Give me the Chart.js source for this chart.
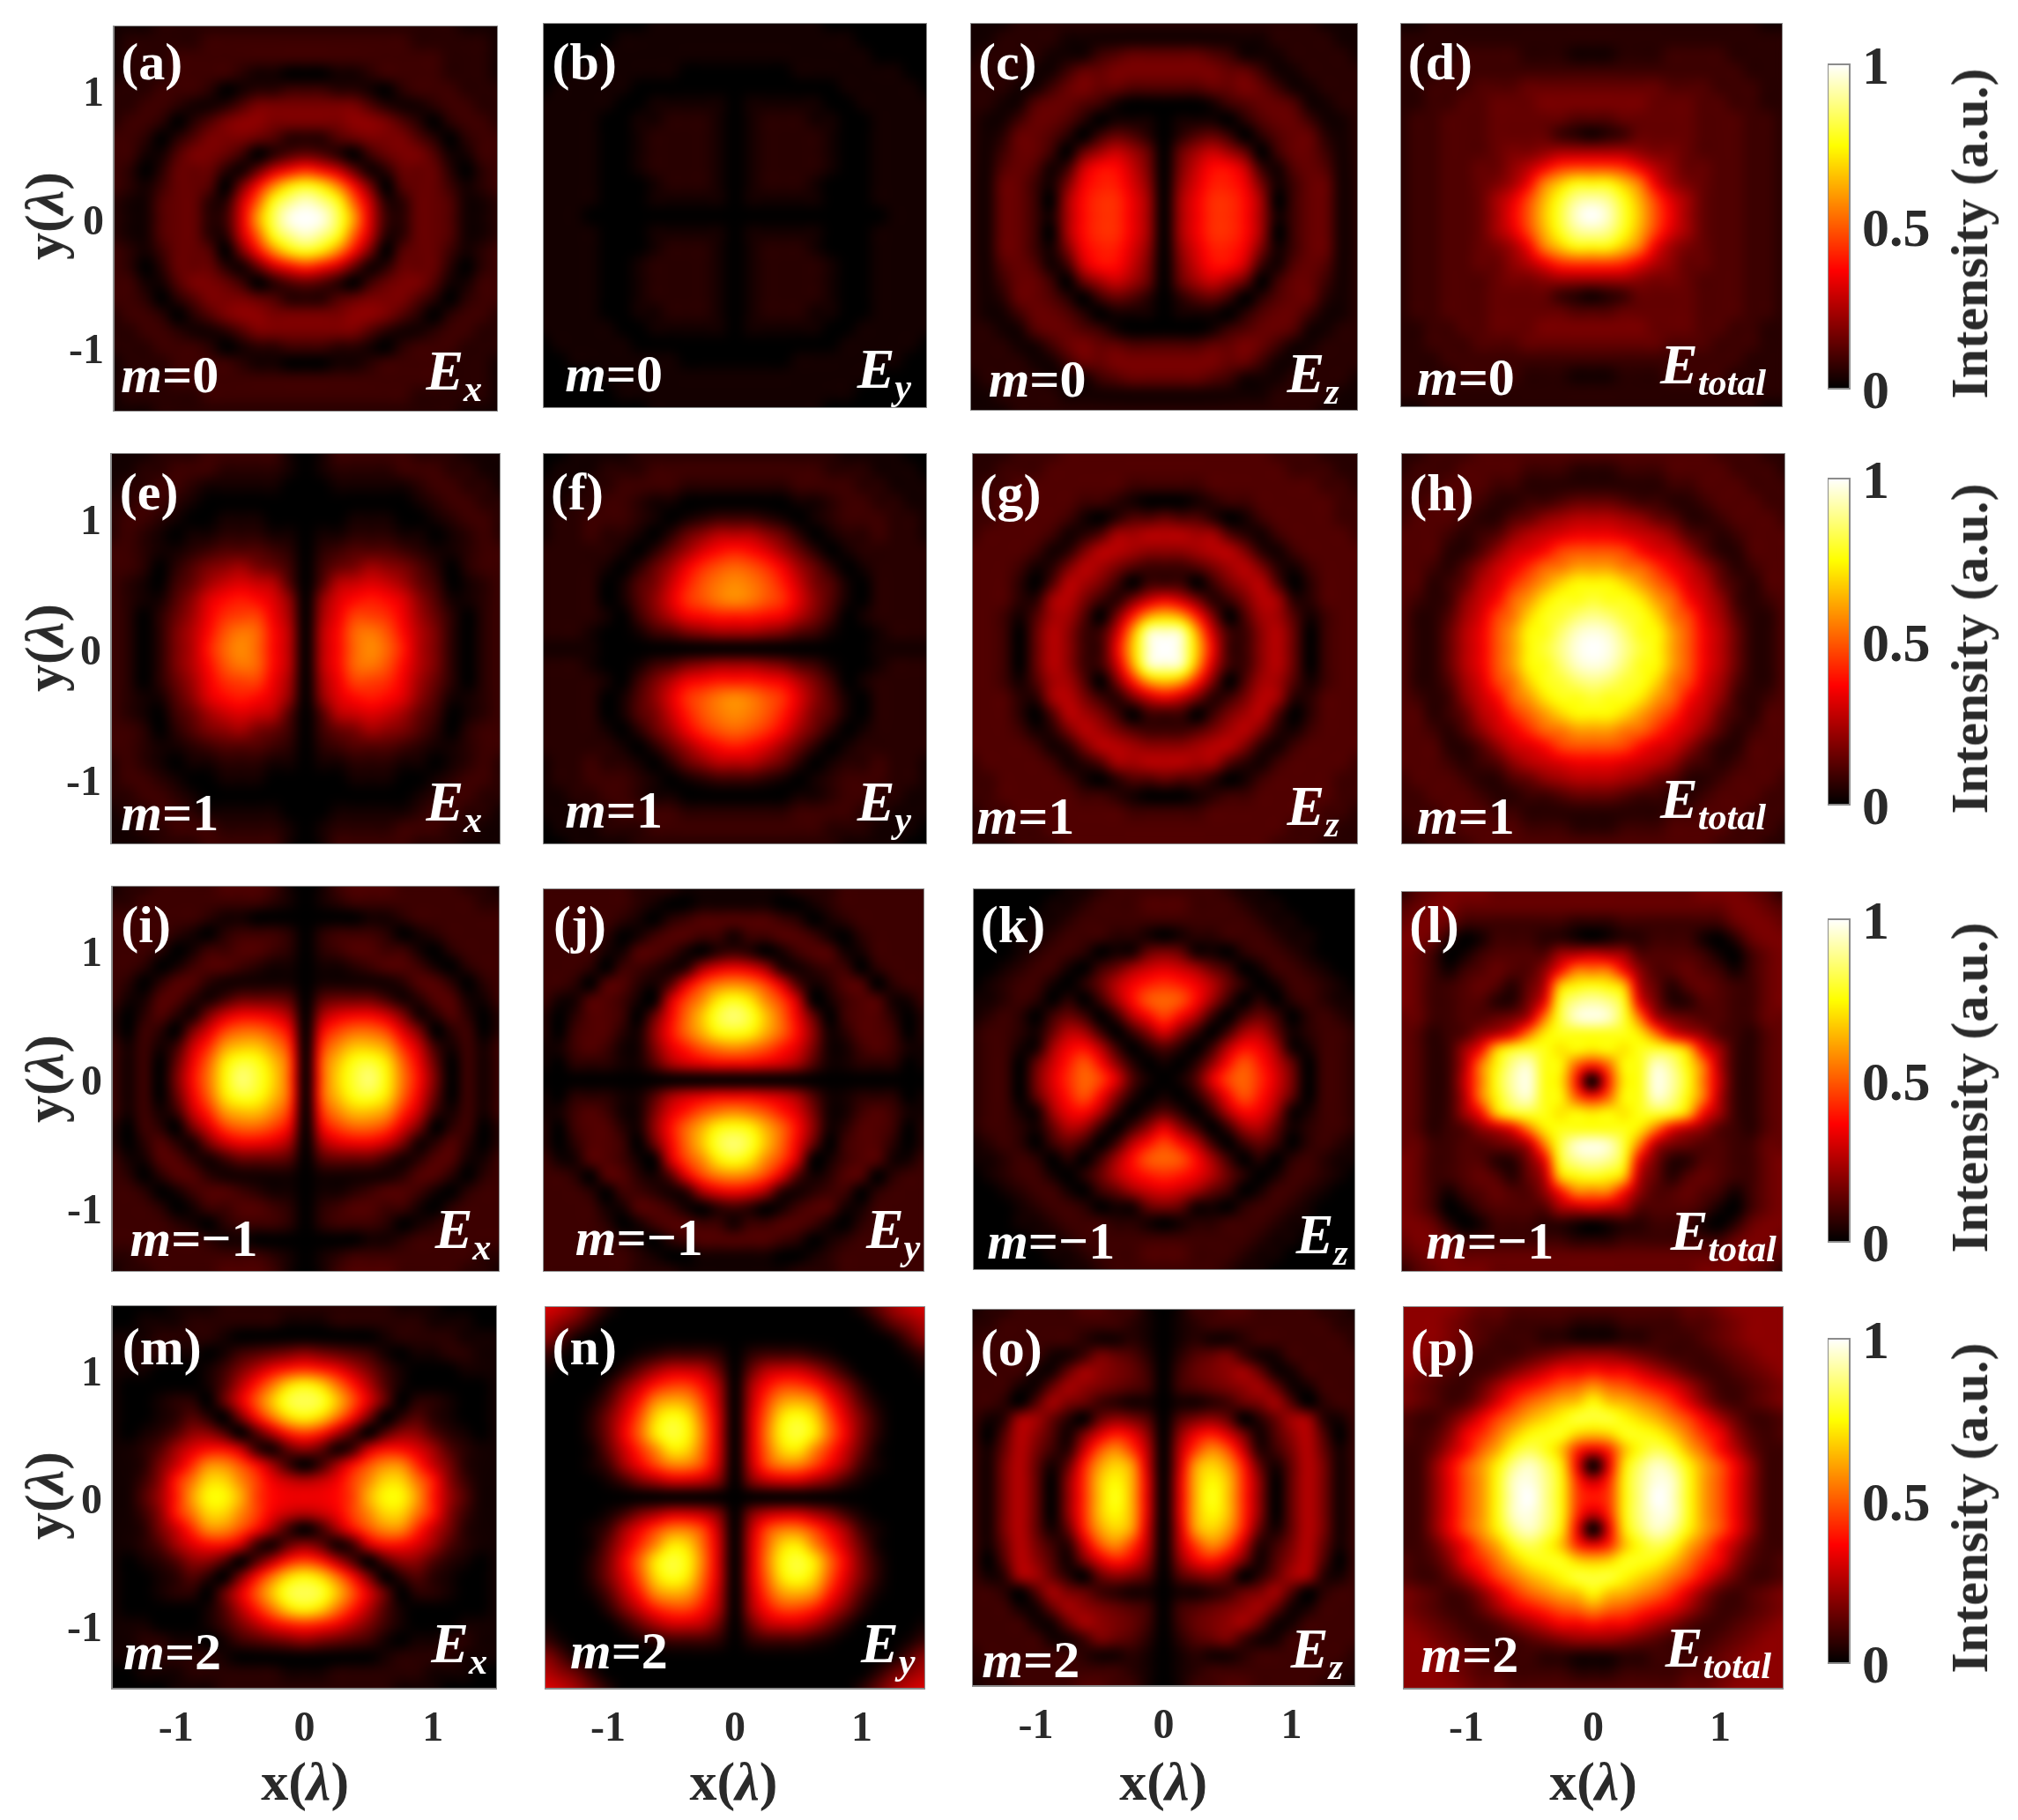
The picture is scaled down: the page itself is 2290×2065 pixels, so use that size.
<!DOCTYPE html>
<html>
<head>
<meta charset="utf-8">
<title>Intensity maps</title>
<script src="https://cdn.jsdelivr.net/npm/chart.js@4"></script>
<style>
  html, body { margin: 0; background: #fff; }
  #page { position: relative; width: 2290px; height: 2065px; overflow: hidden; font-family: "Liberation Serif", serif; }
  canvas { position: absolute; display: block; }
  .txt { position: absolute; white-space: nowrap; line-height: 1; font-weight: bold; }
  .on { color: #fff; }
  .ax { color: #2a2a2a; transform: translate(-50%, -50%); }
  .rot { transform: translate(-50%, -50%) rotate(-90deg); }
  .txt sub { font-size: 0.66em; vertical-align: -0.3em; line-height: 0; }
</style>
</head>
<body>
<div id="page"></div>
<script>
"use strict";

/* ---------- data: intensity, one base-36 digit per sample (0 = 0, z = 1).
   Only the quadrant x >= 0, y >= 0 is listed, the maps are mirror symmetric.
   Rows run y = 0 .. 1.5, characters run x = 0 .. 1.5 ---------- */
const sampleSteps = [0, 0.125, 0.25, 0.375, 0.5, 0.625, 0.75, 0.875, 1, 1.125, 1.25, 1.375, 1.5];

const rowsA = ["zytlb32554112", "xvria22554112", "rpkd604553123", "fda5125552023", "5420356641133", "2245666420233", "6667764202332", "6666421123322", "3322102333222", "0011233332221", "3333333332221", "3333333222221", "2222222222111"];
const rowsB = ["0000000000111", "0111110001111", "0122210001111", "0122221001111", "0122221001111", "0122221001111", "0122211001111", "0111110011111", "0000000111110", "0000111111100", "1111111110000", "1111111100000", "1111110000000"];
const rowsC = ["08cffd8135512", "08cffd8035512", "07beec6135512", "06adda3145412", "058a850355312", "0245302455212", "0111024553112", "0001345541122", "4445565311222", "6666553112222", "5554311122221", "1111111222211", "2222222222111"];
const rowsD = ["zxsnhc8544332", "wvrmgb8544332", "qqnjc86544332", "ggfc975544332", "8887665444332", "1235555444332", "4455555444332", "6666555443322", "5555544433322", "3333333333222", "1122233332222", "2222222222222", "2222222222211"];

const rowsE = ["09dikie962023", "09dijhd962023", "08cggfc852023", "07bdedb741123", "049aba8530123", "0356876420233", "0234443211233", "0112221101232", "0001110012332", "0000000123322", "0011111233221", "0122223332211", "0133333222111"];
const rowsF = ["0000000001111", "8876431001222", "eedc963012222", "kjhfb74102222", "kjhea64102222", "ihfc852012222", "edb8520122222", "9975201223221", "3321012333221", "0000112332211", "2222333322111", "3333332221110", "2222222111100"];
const rowsG = ["zxnc337950344", "xwla337950344", "nle6048841344", "ca62369822444", "3303689402444", "3346896213444", "7789962134444", "9988421344443", "5442013444433", "0012334444433", "3334444444332", "4444444433322", "4444444333222"];
const rowsH = ["zyvsqlhc95224", "yxurqlhc95224", "vusrojgb84224", "srrplida73234", "qqolifb953244", "lljifca742344", "hhgdba7422444", "ccba974323444", "9987542234443", "5543322344433", "2222233444333", "2233344443332", "4444444433322"];

const rowsI = ["0hosuqjd60313", "0hnrspic50313", "0fknnlfa31313", "0cgiigb602302", "08bcca6124202", "0455531244113", "0111112442023", "0112344310233", "0234433102333", "0233320123333", "0000112333333", "0123333333322", "0134443333221"];
const rowsJ = ["0000000000000", "ccba841122201", "kjheb61134311", "rqmid71244302", "usnic50344202", "rpkga01344113", "kjgb412440233", "cb82123302333", "3201344113333", "1334431023333", "4443201233333", "1110012333333", "1111222333333"];
const rowsK = ["014bgifb60332", "1027dhea50332", "42039dc811332", "b730389512332", "gd93035302321", "ihd8302023211", "fec9520133210", "ba85301332100", "6511023321000", "0122333211000", "3333332110000", "4433321100000", "3333211000000"];
const rowsL = ["0eprywrja3245", "eiqrxvqj93245", "pqprsrnd83245", "rrrpjc9743245", "yxsj965443355", "wvrc622443356", "rqn9524543356", "jjd7445431356", "a984444310356", "0122333102566", "2233333335665", "5555555556654", "5555555666542"];

const rowsM = ["ccdgmqqle8411", "9acgkooje7311", "038dhkkfa6211", "7513addb84211", "ge94047742101", "qojd602421001", "tsnhb50221001", "qoje941000001", "fec9631000111", "7654310112211", "0000012222111", "1122222211100", "2222221110000"];
const rowsN = ["0000000000000", "069aa86310000", "09gjjgc831000", "0aiopkfa51000", "0ajqspic62000", "0aiprohb62000", "09glmke941000", "08dggea620000", "059aa85200001", "0233321000013", "0000000000147", "0000000002579", "00000000258ab"];
const rowsO = ["0bmrnf7059613", "0bmqnf7059613", "0alole5159613", "09gkha2369513", "07ceb61479403", "0467502588213", "0112356840233", "0345678511333", "0356785113333", "0245631133333", "0121123333332", "0123333333322", "0133443333221"];
const rowsP = ["egqvzxrlhc733", "afqvyxrlhc733", "0cpuxvqlhc733", "cfnrtrmid9533", "norrqnjfc7434", "ssqomjgc85334", "qnmkifb743456", "kihfdb8533456", "dcca864334567", "7765433345677", "1122333456777", "2233334456777", "4444445567777"];

const panelRows = [
  rowsA, rowsB, rowsC, rowsD,
  rowsE, rowsF, rowsG, rowsH,
  rowsI, rowsJ, rowsK, rowsL,
  rowsM, rowsN, rowsO, rowsP
];

const axisTicks = [-1, 0, 1];
const barTicks = [0, 0.5, 1];

const panelTags = ["a", "b", "c", "d", "e", "f", "g", "h", "i", "j", "k", "l", "m", "n", "o", "p"];
const modeLabels = ["0", "1", "\u22121", "2"];
const componentLabels = ["x", "y", "z", "total"];

/* ---------- layout, in px of a 1568 wide sheet, scaled up below ---------- */
const S = 2290 / 1568;
const panelRects = [
  [88, 20, 387, 320], [422, 18, 720, 317], [754, 18, 1055, 319], [1088, 18, 1385, 316],
  [86, 352, 389, 656], [422, 352, 720, 656], [755, 352, 1055, 656], [1089, 352, 1387, 656],
  [87, 688, 388, 988], [422, 690, 718, 988], [756, 690, 1053, 987], [1089, 692, 1385, 988],
  [87, 1014, 386, 1312], [423, 1015, 719, 1312], [755, 1017, 1053, 1310], [1090, 1015, 1386, 1312]
];
const tagPos = [
  [94, 50], [429, 50], [760, 50], [1094, 50],
  [93, 384], [428, 384], [761, 385], [1095, 385],
  [94, 720], [430, 720], [762, 720], [1095, 720],
  [95, 1048], [429, 1048], [762, 1049], [1096, 1049]
];
const modePos = [
  [94, 305], [439, 304], [768, 308], [1101, 307],
  [94, 645], [439, 643], [759, 648], [1101, 648],
  [101, 976], [447, 975], [767, 978], [1108, 978],
  [96, 1297], [443, 1296], [763, 1303], [1104, 1299]
];
const compPos = [
  [331, 303], [666, 302], [1000, 305], [1290, 298],
  [331, 638], [666, 638], [1000, 641], [1290, 636],
  [338, 970], [673, 970], [1007, 974], [1298, 971],
  [335, 1292], [669, 1292], [1003, 1296], [1294, 1295]
];
const barRects = [
  [1420, 50, 1437, 302], [1420, 372, 1437, 625], [1420, 714, 1437, 965], [1420, 1040, 1437, 1292]
];
const rowCentres = [168, 503, 838, 1162];
const colCentres = [237, 570, 904, 1238];

const page = document.getElementById("page");
const LEFT_PAD = 90, BOTTOM_PAD = 90, BAR_PAD = 40, BAR_RIGHT = 120;
const tickFont = { family: "'Liberation Serif'", size: 48, weight: "bold" };
const frameColor = "#8c8c8c";

/* ---------- hot colour map, same as the colour bars ---------- */
const clamp01 = v => Math.max(0, Math.min(1, v));
const hot = v => [
  255 * clamp01(v / 0.365),
  255 * clamp01((v - 0.365) / 0.385),
  255 * clamp01((v - 0.75) / 0.25)
];

const catmull = (a, b, c, d, t) =>
  b + 0.5 * t * (c - a + t * (2 * a - 5 * b + 4 * c - d + t * (3 * (b - c) + d - a)));

// mirrors a quadrant into the full list of cells, x and y from -1.5 to 1.5
const buildCells = rows => {
  const steps = [...sampleSteps.slice(1).reverse().map(v => -v), ...sampleSteps];
  const cells = [];
  steps.forEach(y => {
    const row = rows[sampleSteps.indexOf(Math.abs(y))];
    steps.forEach(x => {
      const digit = parseInt(row[sampleSteps.indexOf(Math.abs(x))], 36);
      cells.push({ x, y, v: digit / 35 });
    });
  });
  return cells;
};

/* ---------- plugins ---------- */
const fieldPlugin = {
  id: "field",
  beforeDatasetsDraw(chart) {
    const { ctx, chartArea: area, scales } = chart;
    const cells = chart.data.datasets[0].data;
    const n = Math.round(Math.sqrt(cells.length));
    const at = (i, j) => cells[Math.max(0, Math.min(n - 1, j)) * n + Math.max(0, Math.min(n - 1, i))].v;
    const step = cells[1].x - cells[0].x;
    const left = Math.round(area.left), top = Math.round(area.top);
    const w = Math.round(area.right) - left, h = Math.round(area.bottom) - top;
    const img = ctx.createImageData(w, h);
    for (let py = 0; py < h; py++) {
      const gy = (scales.y.getValueForPixel(top + py + 0.5) - cells[0].y) / step;
      const j = Math.floor(gy), ty = gy - j;
      for (let px = 0; px < w; px++) {
        const gx = (scales.x.getValueForPixel(left + px + 0.5) - cells[0].x) / step;
        const i = Math.floor(gx), tx = gx - i;
        const col = [];
        for (let k = -1; k <= 2; k++) {
          col.push(catmull(at(i - 1, j + k), at(i, j + k), at(i + 1, j + k), at(i + 2, j + k), tx));
        }
        const rgb = hot(catmull(col[0], col[1], col[2], col[3], ty));
        const o = (py * w + px) * 4;
        img.data[o] = rgb[0];
        img.data[o + 1] = rgb[1];
        img.data[o + 2] = rgb[2];
        img.data[o + 3] = 255;
      }
    }
    ctx.putImageData(img, left, top);
    // the source picture is soft, a small blur also hides the sample grid
    const copy = document.createElement("canvas");
    copy.width = w;
    copy.height = h;
    copy.getContext("2d").putImageData(img, 0, 0);
    ctx.save();
    ctx.beginPath();
    ctx.rect(left, top, w, h);
    ctx.clip();
    ctx.filter = "blur(4px)";
    ctx.drawImage(copy, left, top);
    ctx.restore();
  }
};

const barPlugin = {
  id: "colorBar",
  beforeDatasetsDraw(chart) {
    const { ctx, chartArea: area, scales } = chart;
    for (let py = Math.round(area.top); py < Math.round(area.bottom); py++) {
      const rgb = hot(scales.y.getValueForPixel(py + 0.5));
      ctx.fillStyle = `rgb(${rgb[0]},${rgb[1]},${rgb[2]})`;
      ctx.fillRect(area.left, py, area.right - area.left, 1);
    }
  }
};

const framePlugin = {
  id: "frame",
  afterDraw(chart) {
    const { ctx, chartArea: a } = chart;
    ctx.save();
    ctx.strokeStyle = frameColor;
    ctx.lineWidth = 2;
    ctx.strokeRect(a.left, a.top, a.right - a.left, a.bottom - a.top);
    ctx.restore();
  }
};

/* ---------- helpers ---------- */
const addCanvas = (x, y, w, h) => {
  const c = document.createElement("canvas");
  c.width = w;
  c.height = h;
  c.style.left = x + "px";
  c.style.top = y + "px";
  c.style.width = w + "px";
  c.style.height = h + "px";
  page.appendChild(c);
  return c;
};

const addText = (html, cls, x, y, size) => {
  const d = document.createElement("div");
  d.className = "txt " + cls;
  d.innerHTML = html;
  d.style.left = x + "px";
  d.style.top = y + "px";
  d.style.fontSize = size + "px";
  page.appendChild(d);
  return d;
};

// chart.js reserves room for the outer tick labels, the panels have to keep their exact size
const fitAxis = (scale, key, size) => {
  scale[key] = size;
  scale.paddingTop = scale.paddingBottom = scale.paddingLeft = scale.paddingRight = 0;
};

const tickScale = (show, tickOpts, fit) => ({
  type: "linear",
  min: -1.5,
  max: 1.5,
  display: show,
  grid: { display: false, drawTicks: false },
  border: { display: false },
  afterBuildTicks: scale => { scale.ticks = axisTicks.map(value => ({ value })); },
  ticks: { font: tickFont, color: "#2a2a2a", autoSkip: false, maxRotation: 0, callback: v => String(v), ...tickOpts },
  afterFit: s => { if (show) fit(s); }
});

/* ---------- panels ---------- */
panelRects.forEach((r, idx) => {
  const col = idx % 4, row = Math.floor(idx / 4);
  const x0 = Math.round(r[0] * S), y0 = Math.round(r[1] * S);
  const x1 = Math.round(r[2] * S), y1 = Math.round(r[3] * S);
  const padL = col === 0 ? LEFT_PAD : 0;
  const padB = row === 3 ? BOTTOM_PAD : 0;

  new Chart(addCanvas(x0 - padL, y0, x1 - x0 + padL, y1 - y0 + padB), {
    type: "scatter",
    data: { datasets: [{ data: buildCells(panelRows[idx]), pointRadius: 0 }] },
    options: {
      responsive: false,
      animation: false,
      devicePixelRatio: 1,
      events: [],
      layout: { padding: 0 },
      plugins: { legend: { display: false }, tooltip: { enabled: false } },
      scales: {
        x: tickScale(row === 3, { padding: 18 }, s => fitAxis(s, "height", BOTTOM_PAD)),
        y: tickScale(col === 0, { padding: 11, labelOffset: 6 }, s => fitAxis(s, "width", LEFT_PAD))
      }
    },
    plugins: [fieldPlugin, framePlugin]
  });

  const comp = componentLabels[col];
  addText(`(${panelTags[idx]})`, "on", tagPos[idx][0] * S, tagPos[idx][1] * S - 33, 60);
  addText(`<i>m</i>=${modeLabels[row]}`, "on", modePos[idx][0] * S, modePos[idx][1] * S - 0.8375 * 60, 60);
  addText(`<i>E<sub>${comp}</sub></i>`, "on", compPos[idx][0] * S, compPos[idx][1] * S - 0.8375 * 64, 64);
});

/* ---------- axis titles ---------- */
rowCentres.forEach(y => addText("y(<i>\u03bb</i>)", "ax rot", 34 * S, y * S, 62));
colCentres.forEach(x => addText("x(<i>\u03bb</i>)", "ax", x * S, 1384 * S, 62));

/* ---------- colour bars ---------- */
barRects.forEach(r => {
  const x0 = Math.round(r[0] * S), y0 = Math.round(r[1] * S);
  const x1 = Math.round(r[2] * S), y1 = Math.round(r[3] * S);
  new Chart(addCanvas(x0, y0 - BAR_PAD, x1 - x0 + BAR_RIGHT, y1 - y0 + 2 * BAR_PAD), {
    type: "scatter",
    data: { datasets: [{ data: barTicks.map(y => ({ x: 0, y })), pointRadius: 0 }] },
    options: {
      responsive: false,
      animation: false,
      devicePixelRatio: 1,
      events: [],
      layout: { padding: { top: BAR_PAD, bottom: BAR_PAD } },
      plugins: { legend: { display: false }, tooltip: { enabled: false } },
      scales: {
        x: { display: false },
        y: {
          type: "linear",
          position: "right",
          min: 0,
          max: 1,
          grid: { display: false, drawTicks: false },
          border: { display: false },
          afterBuildTicks: scale => { scale.ticks = barTicks.map(value => ({ value })); },
          ticks: {
            font: { family: "'Liberation Serif'", size: 62, weight: "bold" },
            color: "#2a2a2a",
            padding: 14,
            labelOffset: 6,
            callback: v => String(v)
          },
          afterFit: s => fitAxis(s, "width", BAR_RIGHT)
        }
      }
    },
    plugins: [barPlugin, framePlugin]
  });
  addText("Intensity (a.u.)", "ax rot", 2235, (y0 + y1) / 2 + 8, 60);
});
</script>
</body>
</html>
